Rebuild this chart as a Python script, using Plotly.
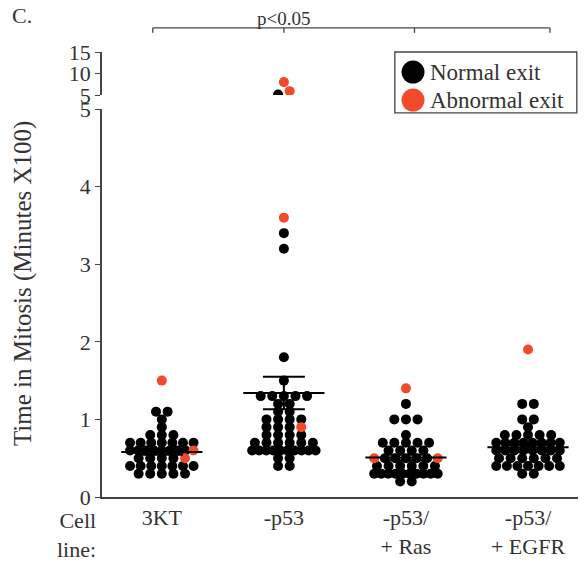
import numpy as np
import plotly.graph_objects as go

# categories and tick labels
categories = ['3KT', '-p53', '-p53/ + Ras', '-p53/ + EGFR']
tick_labels = ['3KT', '-p53', '-p53/<br>+ Ras', '-p53/<br>+ EGFR']

# time in mitosis (minutes x100)
normal_exit = {
    '3KT': [1.1, 1.1, 1.0, 0.9, 0.8, 0.8, 0.8,
            0.7, 0.7, 0.7, 0.7, 0.7, 0.7, 0.7,
            0.6, 0.6, 0.6, 0.6, 0.6, 0.6, 0.6, 0.6,
            0.5, 0.5, 0.5, 0.5,
            0.4, 0.4, 0.4, 0.4, 0.4, 0.4, 0.4,
            0.3, 0.3, 0.3, 0.3, 0.3],
    '-p53': [5.1, 3.4, 3.2, 1.8, 1.5,
             1.3, 1.3, 1.3, 1.3, 1.3, 1.2, 1.2, 1.1, 1.1,
             1.0, 1.0, 1.0, 1.0, 0.9, 0.9, 0.9,
             0.8, 0.8, 0.8, 0.8,
             0.7, 0.7, 0.7, 0.7, 0.7, 0.7,
             0.6, 0.6, 0.6, 0.6, 0.6, 0.6, 0.6, 0.6, 0.6, 0.6,
             0.5, 0.5, 0.4, 0.4],
    '-p53/ + Ras': [1.2, 1.0, 1.0, 1.0, 0.8,
                    0.7, 0.7, 0.7, 0.7, 0.7,
                    0.6, 0.6, 0.6, 0.6,
                    0.5, 0.5, 0.5, 0.5, 0.5,
                    0.4, 0.4, 0.4, 0.4, 0.4, 0.4,
                    0.3, 0.3, 0.3, 0.3, 0.3, 0.3, 0.3, 0.3, 0.3, 0.3,
                    0.2, 0.2],
    '-p53/ + EGFR': [1.2, 1.2, 1.0, 1.0, 0.9,
                     0.8, 0.8, 0.8, 0.8, 0.8,
                     0.7, 0.7, 0.7, 0.7, 0.7, 0.7, 0.7, 0.7,
                     0.6, 0.6, 0.6, 0.6, 0.6, 0.6, 0.6, 0.6,
                     0.5, 0.5, 0.5, 0.5, 0.5, 0.5,
                     0.4, 0.4, 0.4, 0.4, 0.4, 0.4, 0.4,
                     0.3, 0.3],
}
abnormal_exit = {
    '3KT': [1.5, 0.6, 0.5],
    '-p53': [8.0, 5.9, 3.6, 0.9],
    '-p53/ + Ras': [1.4, 0.5, 0.5],
    '-p53/ + EGFR': [1.9],
}
means = [0.58, 1.34, 0.51, 0.64]
sems = [0.035, 0.21, 0.035, 0.03]

BLACK = '#000000'
RED = '#F34A2C'
FONT = 'Liberation Serif'
TXT = '#333333'
BREAK = 5.0

# approximate pixel height of a value (only used to decide which points share a row)
def px(v):
    return v * 77.6 if v <= BREAK else 402 + (v - BREAK) * 4.3

# Prism-like layout: points in one row side by side, squeezed if the row gets wide
def swarm(ci, normal, abnormal):
    out = {'n': ([], []), 'a': ([], [])}
    vals = sorted(set(normal) | set(abnormal))
    rows = []
    for v in vals:
        if rows and px(v) - px(rows[-1][-1]) < 5:
            rows[-1].append(v)
        else:
            rows.append([v])
    for row in rows:
        items = []
        for v in row:
            items += [('n', v)] * sum(1 for y in normal if y == v)
        reds = [('a', v) for v in row for y in abnormal if y == v]
        n = len(items) + len(reds)
        d = 0.095 if n <= 1 else min(0.095, 0.52 / (n - 1))
        slots = [None] * n
        lo, hi = 0, n - 1
        for j, r in enumerate(reds):
            if j % 2 == 0:
                slots[hi] = r; hi -= 1
            else:
                slots[lo] = r; lo += 1
        it = iter(items)
        for i in range(n):
            if slots[i] is None:
                slots[i] = next(it)
        for i, (key, v) in enumerate(slots):
            out[key][0].append(ci + (i - (n - 1) / 2) * d)
            out[key][1].append(v)
    return out

pts = {'n': ([], []), 'a': ([], [])}
for ci, cat in enumerate(categories):
    res = swarm(ci, normal_exit[cat], abnormal_exit[cat])
    for key in ('n', 'a'):
        pts[key][0].extend(res[key][0])
        pts[key][1].extend(res[key][1])

fig = go.Figure()

for key, col in (('n', BLACK), ('a', RED)):
    x = np.array(pts[key][0])
    y = np.array(pts[key][1])
    low = y <= BREAK
    fig.add_trace(go.Scatter(x=x[low], y=y[low], mode='markers',
                             marker=dict(size=10, color=col),
                             showlegend=False, hoverinfo='y'))
    fig.add_trace(go.Scatter(x=x[~low], y=y[~low], mode='markers',
                             marker=dict(size=10, color=col),
                             showlegend=False, hoverinfo='y', yaxis='y2'))

# mean line and SEM (line-ew is drawn 1.4x its size, so 58 -> ~81px)
fig.add_trace(go.Scatter(
    x=list(range(len(categories))), y=means, mode='markers',
    marker=dict(symbol='line-ew-open', size=58, color=BLACK,
                line=dict(width=2, color=BLACK)),
    error_y=dict(type='data', array=sems, visible=True, color=BLACK,
                 thickness=2, width=21),
    showlegend=False, hoverinfo='y'))

# the page has an 8px body margin, so the figure is 8px smaller than the window
fig.update_layout(
    width=578, height=558,
    margin=dict(l=94, r=0, t=44, b=69),
    plot_bgcolor='white', paper_bgcolor='white',
    font=dict(family=FONT, size=22, color=TXT),
    xaxis=dict(range=[-0.49, 3.475], tickvals=list(range(len(categories))),
               ticktext=tick_labels, showline=True, linecolor='#444444',
               linewidth=1.5, ticks='', showgrid=False, zeroline=False,
               anchor='y', tickfont=dict(family=FONT, size=22)),
    yaxis=dict(range=[0, 5], domain=[0, 388 / 445], tickvals=[0, 1, 2, 3, 4, 5],
               showline=True, linecolor='#444444', linewidth=1.5,
               ticks='outside', ticklen=5, tickcolor='#444444',
               showgrid=False, zeroline=False, anchor='x',
               tickfont=dict(family=FONT, size=22)),
    yaxis2=dict(range=[5, 15], domain=[402 / 445, 1], tickvals=[5, 10, 15],
                showline=True, linecolor='#444444', linewidth=1.5,
                ticks='outside', ticklen=5, tickcolor='#444444',
                showgrid=False, zeroline=False, anchor='x',
                tickfont=dict(family=FONT, size=22)),
)

# significance bracket
bx = [-0.074, 1.0, 2.07, 3.18]
fig.add_shape(type='line', xref='x', yref='paper', x0=bx[0], x1=bx[-1],
              y0=1.054, y1=1.054, line=dict(color='#444444', width=1.3))
for b in bx:
    fig.add_shape(type='line', xref='x', yref='paper', x0=b, x1=b,
                  y0=1.054, y1=1.043, line=dict(color='#444444', width=1.3))
fig.add_annotation(text='p<0.05', xref='x', yref='paper', x=1.0, y=1.076,
                   xanchor='center', yanchor='middle', showarrow=False,
                   font=dict(size=19))

# panel letter
fig.add_annotation(text='C.', xref='paper', yref='paper', x=-0.19, y=1.081,
                   xanchor='left', yanchor='middle', showarrow=False,
                   font=dict(size=22))

# y axis title
fig.add_annotation(text='Time in Mitosis (Minutes X100)', xref='paper',
                   yref='paper', x=-0.163, y=0.481, textangle=-90,
                   xanchor='center', yanchor='middle', showarrow=False,
                   font=dict(size=25))

# "Cell line:" label
fig.add_annotation(text='Cell<br>line:', xref='paper', yref='paper',
                   x=-0.008, y=-0.085, xanchor='right', yanchor='middle',
                   align='right', showarrow=False, font=dict(size=22))

# legend box drawn by hand (bigger markers than plotly's legend allows)
fig.add_shape(type='rect', xref='paper', yref='paper', x0=0.605, x1=0.981,
              y0=0.863, y1=1.0, line=dict(color='#444444', width=1.3),
              fillcolor='white')
for yc, col, label in ((0.955, BLACK, 'Normal exit'), (0.892, RED, 'Abnormal exit')):
    fig.add_shape(type='circle', xref='paper', yref='paper',
                  xsizemode='pixel', ysizemode='pixel',
                  xanchor=0.6426, yanchor=yc, x0=-11.5, x1=11.5, y0=-11.5, y1=11.5,
                  fillcolor=col, line=dict(width=0))
    fig.add_annotation(text=label, xref='paper', yref='paper', x=0.6736, y=yc,
                       xanchor='left', yanchor='middle', showarrow=False,
                       font=dict(size=23))

fig.write_html("out.html")
